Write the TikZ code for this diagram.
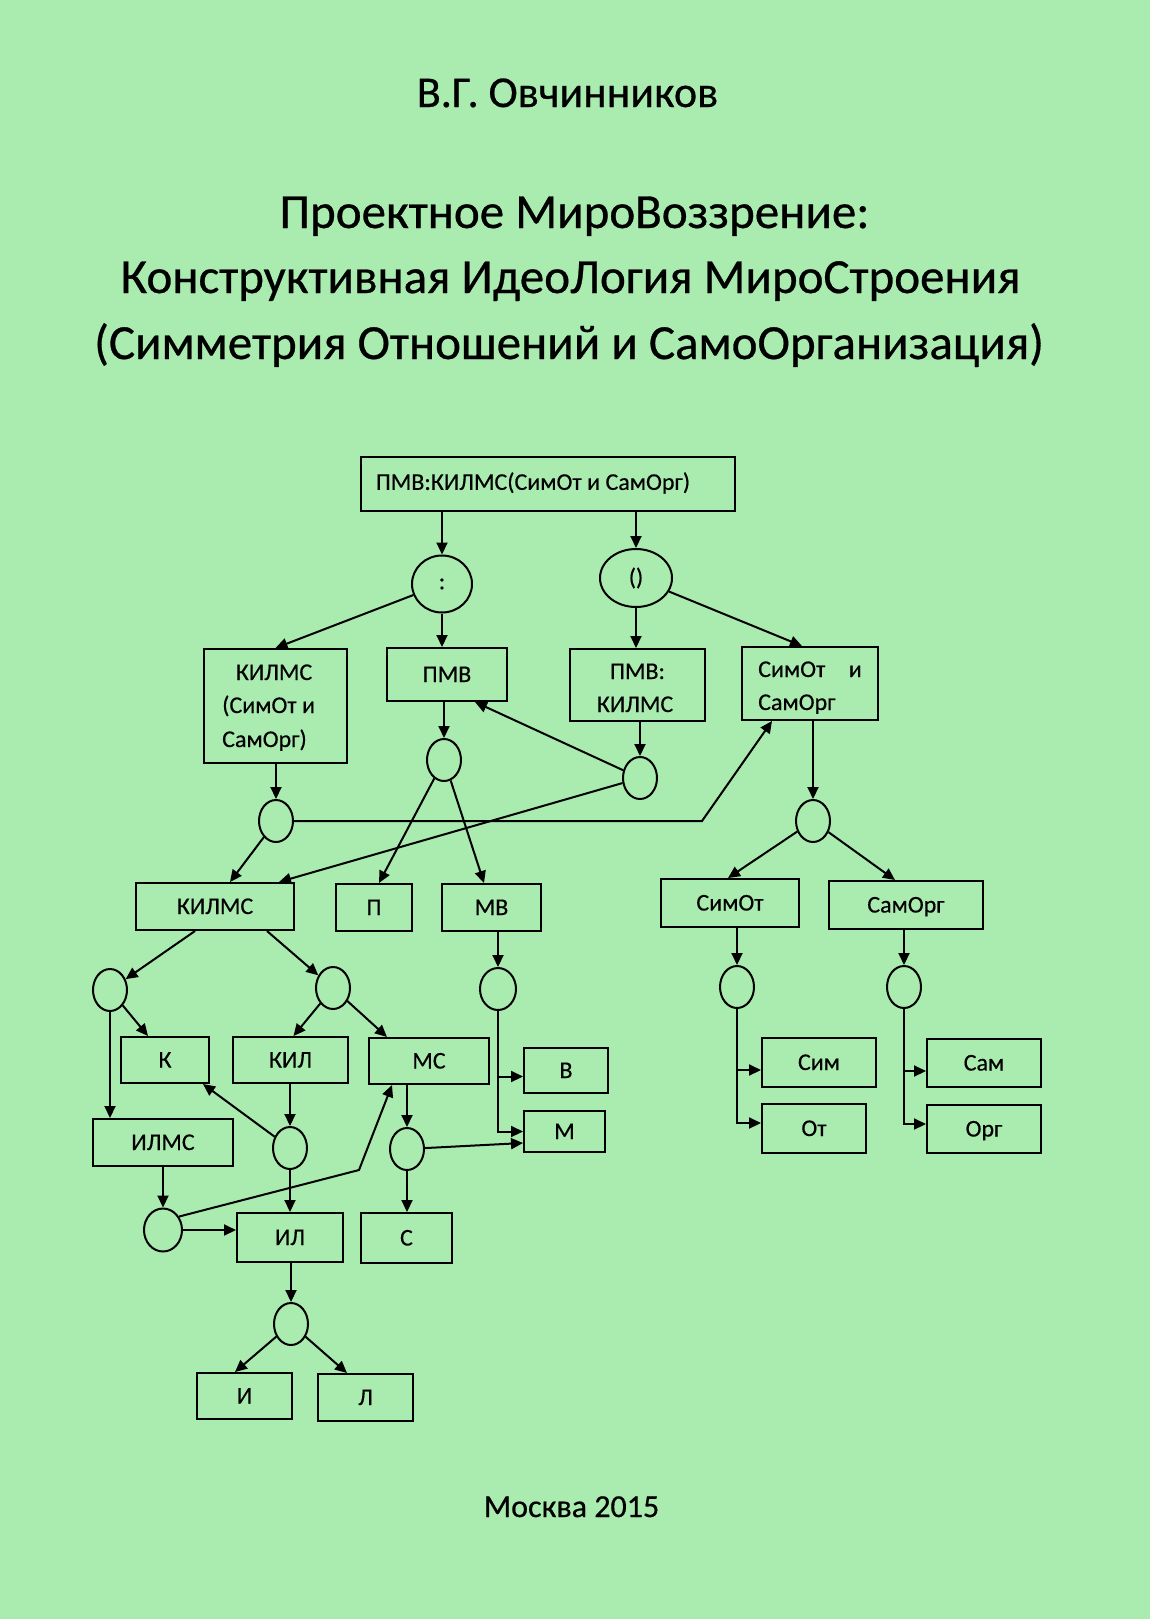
\documentclass[tikz,border=0pt]{standalone}
\usepackage{fontspec}
\setmainfont{Carlito}[FakeBold=0.35]
\newfontfamily\heavyfont{Carlito}[FakeBold=0.6]
\usetikzlibrary{arrows.meta,shapes.geometric,calc}
\definecolor{bg}{RGB}{170,235,176}
\begin{document}
\begin{tikzpicture}[x=1pt,y=-1pt,
  box/.style={draw, line width=2pt, rectangle, inner sep=0pt, text height=15pt, text depth=0pt, font=\fontsize{24}{29}\selectfont},
  ell/.style={draw, line width=2pt, ellipse, inner sep=0pt, minimum width=34, minimum height=42, font=\fontsize{24}{29}\selectfont},
  arr/.style={line width=2pt, -{Triangle[length=12pt,width=11pt]}},
  txt/.style={inner sep=0pt, font=\fontsize{24}{29}\selectfont},
  ttl/.style={inner sep=0pt, anchor=base, font=\heavyfont\fontsize{49}{58}\selectfont}]
\fill[bg] (0,0) rectangle (1150,1619);
\useasboundingbox (0,0) rectangle (1150,1619);

% header and footer
\node[inner sep=0pt, anchor=base, font=\heavyfont\fontsize{44}{52}\selectfont] (author) at (567.5,107) {В.Г. Овчинников};
\node[ttl] (t1) at (574.5,228) {Проектное МироВоззрение:};
\node[ttl] (t2) at (570.5,293) {Конструктивная ИдеоЛогия МироСтроения};
\node[ttl] (t3) at (569,359) {(Симметрия Отношений и СамоОрганизация)};
\node[inner sep=0pt, anchor=base, font=\heavyfont\fontsize{32}{38}\selectfont] (city) at (571.5,1517) {Москва 2015};

% boxes
\node[box, minimum width=374, minimum height=54] (top) at (548,484) {};
\node[txt] (topt) at (533,483) {ПМВ:КИЛМС(СимОт и СамОрг)};

\node[box, minimum width=143, minimum height=114] (BKS) at (275.5,706) {};
\node[txt, anchor=base] (ks1) at (274,680) {КИЛМС};
\node[txt, anchor=base west] (ks2) at (222,713) {(СимОт и};
\node[txt, anchor=base west] (ks3) at (222,747) {СамОрг)};

\node[box, minimum width=120, minimum height=53] (BPMV) at (447,674.5) {ПМВ};

\node[box, minimum width=135, minimum height=72] (BPK) at (637.5,685) {};
\node[txt, anchor=base] (pk1) at (637.5,679) {ПМВ:};
\node[txt, anchor=base] (pk2) at (635,712) {КИЛМС};

\node[box, minimum width=136, minimum height=73] (BSS) at (810,683.5) {};
\node[txt, anchor=base west] (ss1) at (758,677) {СимОт};
\node[txt, anchor=base east] (ss2) at (862,677) {и};
\node[txt, anchor=base west] (ss3) at (758,710) {СамОрг};

\node[box, minimum width=158, minimum height=47] (BK5) at (215,906.5) {КИЛМС};
\node[box, minimum width=76, minimum height=47] (BP) at (374,907.5) {П};
\node[box, minimum width=99, minimum height=47] (BMV) at (491.5,907.5) {МВ};
\node[box, minimum width=138, minimum height=48] (BSimOt) at (730,903) {СимОт};
\node[box, minimum width=154, minimum height=48] (BSamOrg) at (906,905) {СамОрг};
\node[box, minimum width=88, minimum height=46] (BK) at (165,1060) {К};
\node[box, minimum width=115, minimum height=46] (BKIL) at (290.5,1060) {КИЛ};
\node[box, minimum width=120, minimum height=46] (BMS) at (429,1061) {МС};
\node[box, minimum width=84, minimum height=45] (BV) at (566,1070.5) {В};
\node[box, minimum width=81, minimum height=41] (BM) at (564.5,1131.5) {М};
\node[box, minimum width=140, minimum height=47] (BILMS) at (163,1142.5) {ИЛМС};
\node[box, minimum width=106, minimum height=49] (BIL) at (290,1237.5) {ИЛ};
\node[box, minimum width=91, minimum height=50] (BS) at (406.5,1238) {С};
\node[box, minimum width=95, minimum height=46] (BI) at (244.5,1396) {И};
\node[box, minimum width=95, minimum height=47] (BL) at (365.5,1397.5) {Л};
\node[box, minimum width=114, minimum height=49] (BSim) at (819,1062.5) {Сим};
\node[box, minimum width=104, minimum height=49] (BOt) at (814,1128.5) {От};
\node[box, minimum width=114, minimum height=48] (BSam) at (984,1063) {Сам};
\node[box, minimum width=114, minimum height=48] (BOrg) at (984,1129) {Орг};

% ellipses
\node[ell, minimum width=60, minimum height=57] (e1) at (442,584) {:};
\node[ell, minimum width=72, minimum height=58] (e2) at (636,578) {()};
\node[ell] (eP) at (444,760) {};
\node[ell] (eKS) at (276,821) {};
\node[ell] (ePK) at (640,778) {};
\node[ell] (eSS) at (813,821) {};
\node[ell] (eKa) at (110,990) {};
\node[ell] (eKb) at (333,988) {};
\node[ell, minimum width=36] (eMV) at (498,989) {};
\node[ell] (eKIL) at (290,1148) {};
\node[ell] (eMS) at (407,1149) {};
\node[ell, minimum width=38, minimum height=43] (eILMS) at (163,1230) {};
\node[ell] (eIL) at (291,1324) {};
\node[ell] (eSimOt) at (737,987) {};
\node[ell] (eSamOrg) at (904,987) {};

\coordinate (bend1) at (702,821);
\coordinate (bend2) at (359,1170);
\coordinate (vIn) at ($(BV.west)+(0,6)$);
\coordinate (simIn) at ($(BSim.west)+(0,7.5)$);
\coordinate (otIn) at ($(BOt.west)+(0,-5.5)$);
\coordinate (samIn) at ($(BSam.west)+(0,8)$);
\coordinate (orgIn) at ($(BOrg.west)+(0,-5)$);

% connectors
\draw[arr] (top.south -| e1.north) -- (e1.north);
\draw[arr] (top.south -| e2.north) -- (e2.north);
\draw[arr] (e1) -- (BKS.north);
\draw[arr] (e1) -- (e1 |- BPMV.north);
\draw[arr] (e2) -- (e2 |- BPK.north);
\draw[arr] (e2) -- ($(BSS.north)+(-8,0)$);
\draw[arr] (BKS.south -| eKS) -- (eKS);
\draw[arr] (BPMV.south -| eP) -- (eP);
\draw[arr] (BPK.south -| ePK) -- (ePK);
\draw[arr] (ePK) -- ($(BPMV.south)+(28,0)$);
\draw[arr] (ePK) -- ($(BK5.north east)+(-16,0)$);
\draw[arr] (eKS.east) -- (bend1) -- ($(BSS.south west)+(31,0)$);
\draw[arr] (eKS) -- ($(BK5.north)+(15,0)$);
\draw[arr] (eP) -- ($(BP.north)+(5,0)$);
\draw[arr] (eP) -- ($(BMV.north)+(-7.5,0)$);
\draw[arr] (BSS.south -| eSS) -- (eSS);
\draw[arr] (eSS) -- ($(BSimOt.north)+(-2,0)$);
\draw[arr] (eSS) -- ($(BSamOrg.north)+(-11,0)$);
\draw[arr] ($(BK5.south)+(-20,0)$) -- (eKa);
\draw[arr] ($(BK5.south)+(52,0)$) -- (eKb);
\draw[arr] (eKa) -- ($(BK.north)+(-17,0)$);
\draw[arr] (eKa) -- (eKa |- BILMS.north);
\draw[arr] (eKb) -- ($(BKIL.north)+(3,0)$);
\draw[arr] (eKb) -- ($(BMS.north)+(-42,0)$);
\draw[arr] (BKIL.south -| eKIL) -- (eKIL);
\draw[arr] (eKIL) -- ($(BK.south east)+(-7,0)$);
\draw[arr] (eKIL) -- (eKIL |- BIL.north);
\draw[arr] (BMV.south -| eMV) -- (eMV);
\draw[arr] (eMV.south) -- (eMV.south |- BM.west) -- (BM.west);
\draw[arr] (eMV.south |- vIn) -- (vIn);
\draw[arr] (eMS) -- ($(BM.west)+(0,11.5)$);
\draw[arr] (BMS.south -| eMS) -- (eMS);
\draw[arr] (eMS) -- (eMS |- BS.north);
\draw[arr] (BILMS) -- (eILMS);
\draw[arr] (eILMS.east) -- (eILMS.east -| BIL.west);
\draw[arr] (eILMS.40) -- (bend2) -- ($(BMS.south west)+(24,0)$);
\draw[arr] (BIL.south -| eIL) -- (eIL);
\draw[arr] (eIL) -- ($(BI.north)+(-9.5,0)$);
\draw[arr] (eIL) -- ($(BL.north)+(-18.5,0)$);
\draw[arr] (BSimOt.south -| eSimOt) -- (eSimOt);
\draw[arr] (eSimOt.south) -- (eSimOt.south |- otIn) -- (otIn);
\draw[arr] (eSimOt.south |- simIn) -- (simIn);
\draw[arr] (BSamOrg.south -| eSamOrg) -- (eSamOrg);
\draw[arr] (eSamOrg.south) -- (eSamOrg.south |- orgIn) -- (orgIn);
\draw[arr] (eSamOrg.south |- samIn) -- (samIn);
\end{tikzpicture}
\end{document}
